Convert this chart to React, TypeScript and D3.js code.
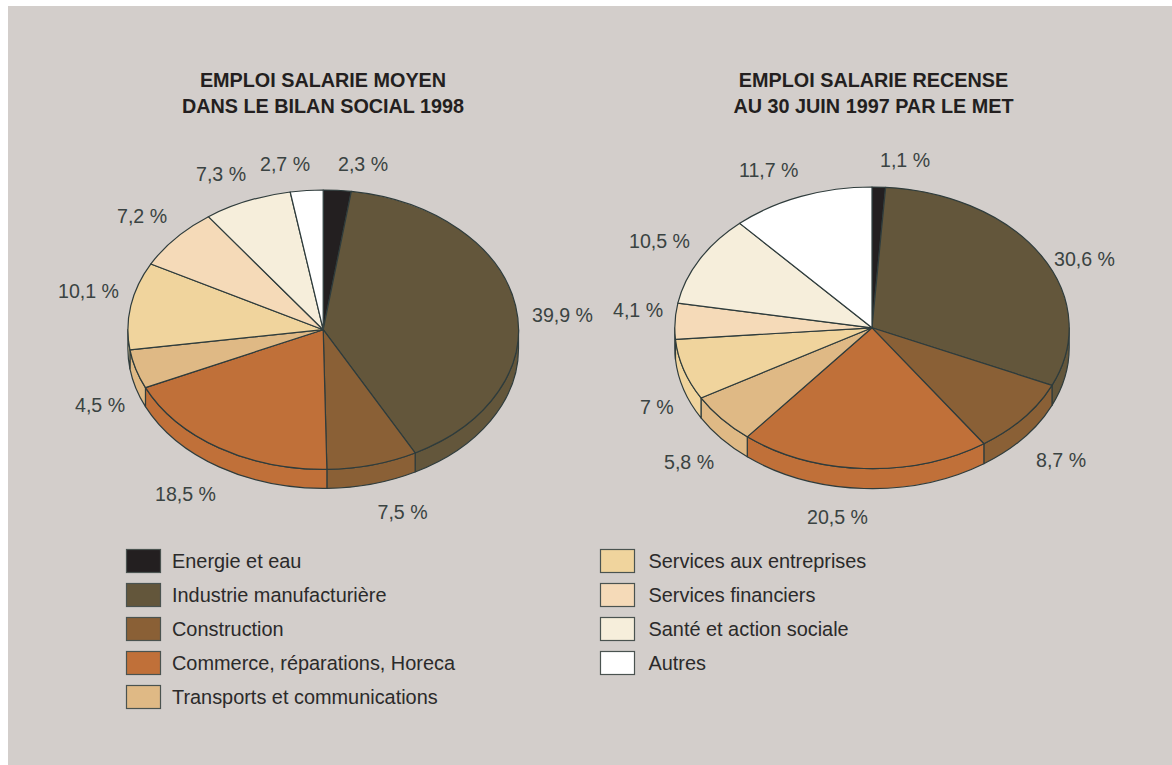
import React from "react";
import * as d3 from "d3";

const categories = [
  "Energie et eau",
  "Industrie manufacturière",
  "Construction",
  "Commerce, réparations, Horeca",
  "Transports et communications",
  "Services aux entreprises",
  "Services financiers",
  "Santé et action sociale",
  "Autres",
];
const colors = ["#231f20", "#63563b", "#8a6036", "#c07039", "#dfb985", "#f0d49d", "#f5dab8", "#f6eedb", "#ffffff"];

const bilanValues = [2.3, 39.9, 7.5, 18.5, 4.5, 10.1, 7.2, 7.3, 2.7];
const bilanLabels = ["2,3 %", "39,9 %", "7,5 %", "18,5 %", "4,5 %", "10,1 %", "7,2 %", "7,3 %", "2,7 %"];
const bilanTitle = ["EMPLOI SALARIE MOYEN", "DANS LE BILAN SOCIAL 1998"];

const metValues = [1.1, 30.6, 8.7, 20.5, 5.8, 7, 4.1, 10.5, 11.7];
const metLabels = ["1,1 %", "30,6 %", "8,7 %", "20,5 %", "5,8 %", "7 %", "4,1 %", "10,5 %", "11,7 %"];
const metTitle = ["EMPLOI SALARIE RECENSE", "AU 30 JUIN 1997 PAR LE MET"];

const FONT = "'Liberation Sans', Arial, sans-serif";
const INK = "#2f3c3c";
const LABEL_INK = "#3a4342";
const BG = "#d3cecb";
const STROKE = 1.2;

type PieProps = {
  values: number[];
  labels: string[];
  title: string[];
  cx: number;
  cy: number;
  rx: number;
  ry: number;
  depth: number;
  titleX: number;
  labelPos: [number, number][];
};

// Tilted pie: d3.pie gives the angles, d3.arc the flat outline, and a y-scale squashes it to an ellipse.
function TiltedPie({ values, labels, title, cx, cy, rx, ry, depth, titleX, labelPos }: PieProps) {
  const slices = d3.pie<number>().sort(null).value((d) => d)(values);
  const arc = d3.arc<d3.PieArcDatum<number>>().innerRadius(0).outerRadius(rx);
  const px = (a: number) => cx + rx * Math.sin(a);
  const py = (a: number) => cy - ry * Math.cos(a);

  // Rim of the disc, only on the half that faces the viewer.
  const walls = slices.flatMap((s, i) => {
    const a0 = Math.max(s.startAngle, Math.PI / 2);
    const a1 = Math.min(s.endAngle, (3 * Math.PI) / 2);
    if (a1 <= a0) return [];
    const d =
      `M${px(a0)},${py(a0)}A${rx},${ry} 0 0 1 ${px(a1)},${py(a1)}` +
      `L${px(a1)},${py(a1) + depth}A${rx},${ry} 0 0 0 ${px(a0)},${py(a0) + depth}Z`;
    return [{ d, fill: colors[i], key: i }];
  });

  return (
    <g>
      <text x={titleX} fontFamily={FONT} fontSize={19.8} fontWeight="bold" fill="#231f20" textAnchor="middle">
        {title.map((t, i) => (
          <tspan key={i} x={titleX} y={87 + i * 26}>
            {t}
          </tspan>
        ))}
      </text>
      {walls.map((w) => (
        <path key={w.key} d={w.d} fill={w.fill} stroke={INK} strokeWidth={STROKE} strokeLinejoin="round" />
      ))}
      <g transform={`translate(${cx},${cy}) scale(1,${ry / rx})`}>
        {slices.map((s, i) => (
          <path
            key={i}
            d={arc(s) ?? ""}
            fill={colors[i]}
            stroke={INK}
            strokeWidth={STROKE}
            strokeLinejoin="round"
            vectorEffect="non-scaling-stroke"
          />
        ))}
      </g>
      {labels.map((t, i) => (
        <text key={i} x={labelPos[i][0]} y={labelPos[i][1]} fontFamily={FONT} fontSize={19.6} fill={LABEL_INK}>
          {t}
        </text>
      ))}
    </g>
  );
}

const legendRows = d3.scaleLinear().domain([0, 1]).range([549.5, 583.5]);

function Legend({ start, count, x, textX }: { start: number; count: number; x: number; textX: number }) {
  return (
    <g>
      {d3.range(count).map((i) => (
        <g key={i}>
          <rect
            x={x}
            y={legendRows(i)}
            width={34}
            height={23}
            fill={colors[start + i]}
            stroke="#4a5350"
            strokeWidth={1.2}
          />
          <text x={textX} y={legendRows(i) + 18.7} fontFamily={FONT} fontSize={19.9} fill="#2b2a2a">
            {categories[start + i]}
          </text>
        </g>
      ))}
    </g>
  );
}

export default function App() {
  return (
    <svg
      width={1172}
      height={765}
      style={{ position: "absolute", left: 0, top: 0, display: "block" }}
    >
      <rect x={0} y={0} width={1172} height={765} fill="#ffffff" />
      <rect x={8} y={6} width={1164} height={759} fill={BG} />
      <TiltedPie
        values={bilanValues}
        labels={bilanLabels}
        title={bilanTitle}
        cx={323.2}
        cy={329.7}
        rx={195.3}
        ry={139.7}
        depth={19}
        titleX={323}
        labelPos={[
          [338, 171],
          [532, 322],
          [377.5, 519],
          [155, 501],
          [75, 412],
          [58, 298],
          [117, 223],
          [196, 181],
          [260, 171],
        ]}
      />
      <TiltedPie
        values={metValues}
        labels={metLabels}
        title={metTitle}
        cx={872}
        cy={327.8}
        rx={197.2}
        ry={140.8}
        depth={20}
        titleX={873.5}
        labelPos={[
          [880, 167],
          [1054, 266],
          [1036, 467],
          [807, 524],
          [664, 469],
          [640, 414],
          [613, 317],
          [629, 248],
          [739, 177],
        ]}
      />
      <Legend start={0} count={5} x={126.5} textX={172} />
      <Legend start={5} count={4} x={600.5} textX={648.5} />
    </svg>
  );
}
